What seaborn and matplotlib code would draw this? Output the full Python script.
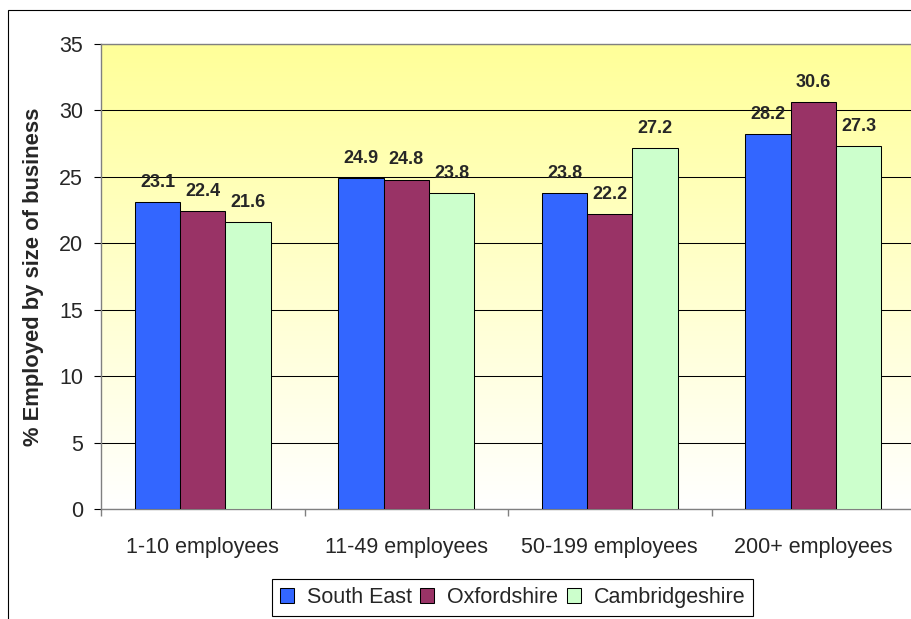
import matplotlib
matplotlib.use('Agg')
import matplotlib.pyplot as plt
import numpy as np
import pandas as pd
import seaborn as sns
from matplotlib.colors import LinearSegmentedColormap
from matplotlib.patches import Patch, Rectangle

sizes = ['1-10 employees', '11-49 employees', '50-199 employees', '200+ employees']
regions = ['South East', 'Oxfordshire', 'Cambridgeshire']
south_east = [23.1, 24.9, 23.8, 28.2]
oxfordshire = [22.4, 24.8, 22.2, 30.6]
cambridgeshire = [21.6, 23.8, 27.2, 27.3]
colors = ['#3366FF', '#993366', '#CCFFCC']

sns.set_theme(style='white')
plt.rcParams['font.family'] = ['Liberation Sans', 'DejaVu Sans']

df = pd.DataFrame({
    'size': sizes * 3,
    'region': np.repeat(regions, len(sizes)),
    'pct': south_east + oxfordshire + cambridgeshire,
})

fig = plt.figure(figsize=(9.12, 6.19), dpi=100)
ax = fig.add_axes([101 / 912, 1 - 509 / 619, 814 / 912, 465 / 619])

# yellow to white plot area fill
grad = np.linspace(0, 1, 256).reshape(-1, 1)
cmap = LinearSegmentedColormap.from_list('yl', ['white', '#FFFF99'])
ax.imshow(grad, extent=[-0.5, 3.5, 0, 35], origin='lower', aspect='auto',
          cmap=cmap, zorder=0)

sns.barplot(data=df, x='size', y='pct', hue='region', palette=colors,
            width=2 / 3, saturation=1, edgecolor='black', linewidth=0.75,
            errorbar=None, legend=False, ax=ax, zorder=3)

for c in ax.containers:
    ax.bar_label(c, fmt='%.1f', padding=8, fontsize=13, fontweight='bold')

ax.set_xlim(-0.5, 3.5)
ax.set_ylim(0, 35)
ax.set_yticks(range(0, 36, 5))
ax.set_xticks(range(len(sizes)))
ax.set_xticklabels(sizes)
ax.set_xticks(np.arange(-0.5, 4, 1), minor=True)
ax.yaxis.grid(True, color='black', lw=0.75)
ax.set_axisbelow(True)
ax.tick_params(which='both', bottom=True, left=True)
ax.tick_params(axis='x', which='major', length=0, pad=20, labelsize=15.5)
ax.tick_params(axis='x', which='minor', length=5, color='#808080', direction='out')
ax.tick_params(axis='y', length=5, width=0.8, color='black', direction='out',
               pad=8, labelsize=15.5)
for s in ax.spines.values():
    s.set_color('#808080')
    s.set_linewidth(1.0)
ax.set_xlabel('')
ax.set_ylabel('')

fig.text(34 / 912, 1 - 276.5 / 619, '% Employed by size of business',
         rotation=90, ha='center', va='center', fontsize=15.8, fontweight='bold')

handles = [Patch(facecolor=col, edgecolor='black', linewidth=0.75) for col in colors]
leg = fig.legend(handles, regions, loc='center', ncol=3,
                 bbox_to_anchor=(512.5 / 912, 1 - 597.5 / 619),
                 fontsize=15.5, handlelength=0.65, handleheight=0.65,
                 handletextpad=0.6, columnspacing=0.4, borderpad=0.35,
                 fancybox=False, framealpha=1, edgecolor='black')
leg.get_frame().set_linewidth(0.8)

# outer chart border
fig.add_artist(Rectangle((8 / 912, -1), 2, 1 + (1 - 10 / 619) - 0,
                         transform=fig.transFigure, fill=False,
                         edgecolor='black', linewidth=0.8))

fig.savefig('out.png', dpi=100)
